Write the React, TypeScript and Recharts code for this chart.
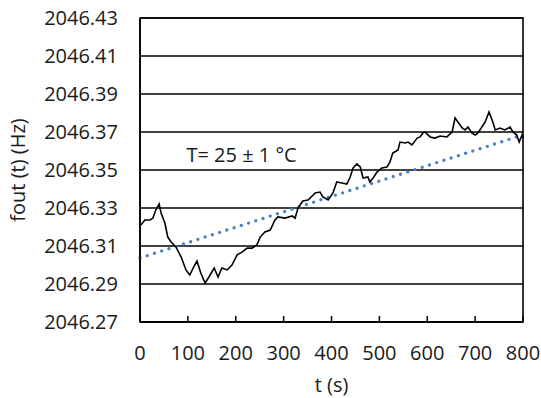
import { LineChart, Line, XAxis, YAxis, CartesianGrid, ReferenceArea, ReferenceDot } from 'recharts'

const timeS = [
  2, 10, 21, 27, 33, 40, 44, 52, 58, 65, 75, 86, 96, 104, 111, 119, 127, 136, 144, 155,
  163, 171, 182, 192, 203, 213, 224, 234, 244, 251, 261, 272, 282, 288, 303, 318, 324, 330,
  340, 351, 366, 376, 382, 393, 403, 411, 422, 432, 439, 445, 453, 460, 466, 476, 480, 487,
  495, 505, 516, 522, 528, 539, 543, 554, 560, 568, 579, 585, 591, 595, 606, 616, 627, 641,
  652, 658, 664, 673, 679, 685, 693, 700, 706, 714, 721, 729, 737, 742, 752, 762, 773, 779,
  787, 792, 798, 800,
]
const foutHz = [
  2046.3211, 2046.3237, 2046.3237, 2046.3247, 2046.3289, 2046.3321, 2046.3274, 2046.3221,
  2046.3147, 2046.3121, 2046.3095, 2046.3042, 2046.2974, 2046.2947, 2046.2984, 2046.3021,
  2046.2958, 2046.2905, 2046.2937, 2046.2984, 2046.2937, 2046.2984, 2046.2974, 2046.3,
  2046.3053, 2046.3068, 2046.3089, 2046.3089, 2046.3105, 2046.3147, 2046.3174, 2046.3184,
  2046.3237, 2046.3253, 2046.3247, 2046.3258, 2046.3247, 2046.33, 2046.3337, 2046.3342,
  2046.3379, 2046.3384, 2046.3358, 2046.3342, 2046.3379, 2046.3437, 2046.3432, 2046.3426,
  2046.3463, 2046.3511, 2046.3532, 2046.3516, 2046.3458, 2046.3463, 2046.3437, 2046.3458,
  2046.3489, 2046.3511, 2046.3516, 2046.3542, 2046.3589, 2046.3605, 2046.3647, 2046.3642,
  2046.3647, 2046.3632, 2046.3668, 2046.3674, 2046.3695, 2046.37, 2046.3674, 2046.3668,
  2046.3679, 2046.3674, 2046.37, 2046.3774, 2046.3753, 2046.3721, 2046.3711, 2046.3726,
  2046.3695, 2046.3684, 2046.3695, 2046.3726, 2046.3753, 2046.3805, 2046.3753, 2046.3711,
  2046.3721, 2046.3711, 2046.3726, 2046.37, 2046.3684, 2046.3647, 2046.3684, 2046.3668,
]

// linear trend
const trendT = [0, 800]
const trendHz = [2046.3037, 2046.3685]

const xTicks = [0, 100, 200, 300, 400, 500, 600, 700, 800]
const yTicks = [2046.27, 2046.29, 2046.31, 2046.33, 2046.35, 2046.37, 2046.39, 2046.41, 2046.43]

const series = timeS.map((t, i) => ({ t, f: foutHz[i] }))
const trend = trendT.map((t, i) => ({ t, f: trendHz[i] }))

const font = '"Open Sans", sans-serif'
const fs = 20

const XTick = (props: any) => {
  const { x, y, payload } = props
  return (
    <g>
      <line x1={x} x2={x} y1={y} y2={y - 6} stroke="#000" strokeWidth={1.5} />
      <text x={x} y={y + 30} textAnchor="middle" dominantBaseline="central" fontSize={fs} fill="#1a1a1a" fontFamily={font}>
        {payload.value}
      </text>
    </g>
  )
}

export default function App() {
  return (
    <div style={{ position: 'absolute', left: 0, top: 0, background: '#fff' }}>
      <LineChart width={541} height={398} margin={{ top: 18, right: 18, bottom: 0, left: 0 }}>
        <CartesianGrid vertical={false} stroke="#000" strokeWidth={1.4} />
        <XAxis
          type="number"
          dataKey="t"
          domain={[0, 800]}
          ticks={xTicks}
          height={76}
          tickSize={0}
          tickMargin={0}
          tick={XTick}
          axisLine={{ stroke: '#000', strokeWidth: 1.6 }}
          label={{
            content: ({ viewBox }: any) => (
              <text
                x={viewBox.x + viewBox.width / 2}
                y={viewBox.y + 62}
                textAnchor="middle"
                dominantBaseline="central"
                fontSize={fs}
                fill="#1a1a1a"
                fontFamily={font}
              >
                t (s)
              </text>
            ),
          }}
        />
        <YAxis
          type="number"
          domain={[2046.27, 2046.43]}
          ticks={yTicks}
          width={140}
          tickSize={0}
          tickMargin={22}
          tickFormatter={(v: number) => v.toFixed(2)}
          tick={{ fontSize: fs, fill: '#1a1a1a', fontFamily: font }}
          axisLine={{ stroke: '#000', strokeWidth: 1.6 }}
          label={{
            content: ({ viewBox }: any) => {
              const cx = 17
              const cy = viewBox.y + viewBox.height / 2
              return (
                <text
                  x={cx}
                  y={cy}
                  transform={`rotate(-90 ${cx} ${cy})`}
                  textAnchor="middle"
                  dominantBaseline="central"
                  fontSize={fs}
                  fill="#1a1a1a"
                  fontFamily={font}
                >
                  fout (t) (Hz)
                </text>
              )
            },
          }}
        />
        <ReferenceArea x1={0} x2={800} y1={2046.27} y2={2046.43} fill="none" stroke="#000" strokeWidth={1.6} />
        <ReferenceDot
          x={212}
          y={2046.3579}
          r={0}
          label={{
            content: ({ viewBox }: any) => (
              <text
                x={viewBox.x + viewBox.width / 2}
                y={viewBox.y + viewBox.height / 2}
                textAnchor="middle"
                dominantBaseline="central"
                fontSize={fs}
                fill="#1a1a1a"
                fontFamily={font}
              >
                T= 25 ± 1 °C
              </text>
            ),
          }}
        />
        <Line
          data={trend}
          dataKey="f"
          stroke="#4a80c4"
          strokeWidth={3.4}
          strokeDasharray="0 7.6"
          strokeLinecap="round"
          dot={false}
          activeDot={false}
          isAnimationActive={false}
        />
        <Line
          data={series}
          dataKey="f"
          type="linear"
          stroke="#000"
          strokeWidth={1.6}
          dot={false}
          activeDot={false}
          isAnimationActive={false}
        />
      </LineChart>
    </div>
  )
}
